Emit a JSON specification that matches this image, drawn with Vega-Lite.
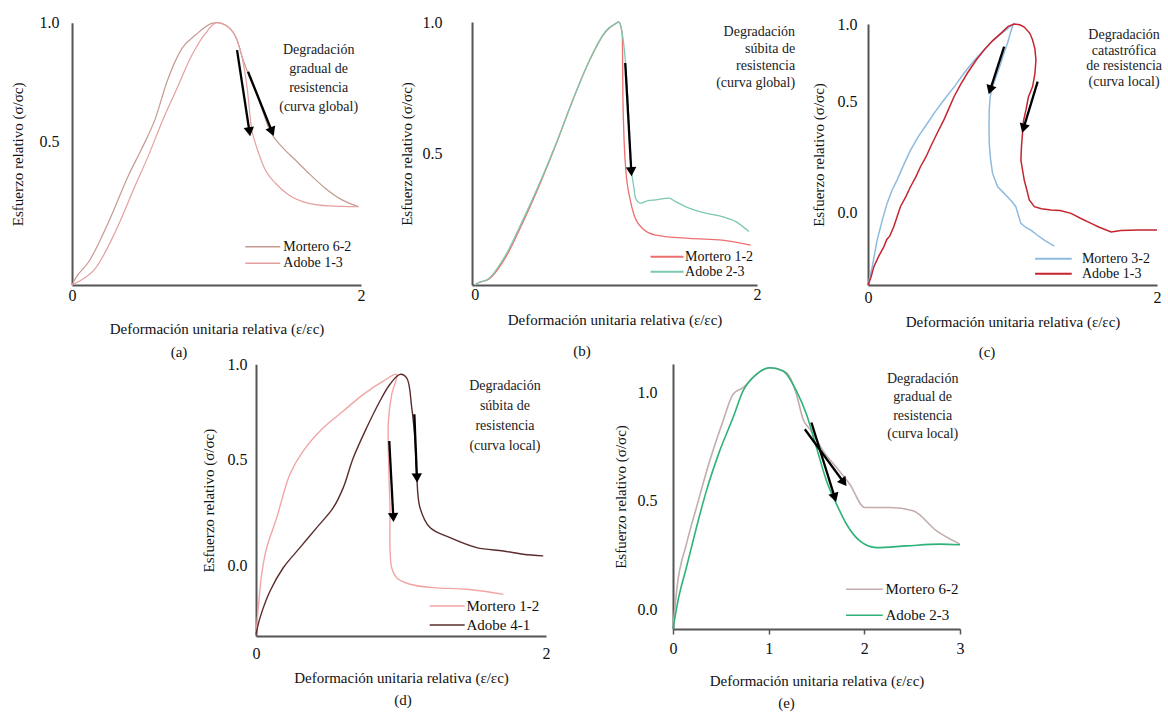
{
  "$schema": "https://vega.github.io/schema/vega-lite/v6.json",
  "background": "white",
  "padding": {"left": 10, "top": 14, "right": 0, "bottom": 0},
  "config": {
    "view": {"stroke": null},
    "axis": {"domainColor": "#555", "domainWidth": 2, "grid": false, "ticks": false, "labelFont": "Liberation Serif", "labelFontSize": 16, "labelColor": "#111", "titleFont": "Liberation Serif", "titleFontSize": 15, "titleFontWeight": "normal", "titleColor": "#111", "labelFlush": false},
    "legend": {"labelFont": "Liberation Serif", "labelColor": "#111", "padding": 0, "symbolType": "M-3,0L3,0", "title": null},
    "title": {"font": "Liberation Serif", "fontSize": 15, "fontWeight": "normal", "color": "#111"}
  },
  "datasets": {
    "a": [
      {"serie": "Mortero 6-2", "x": 0, "y": 0}, {"serie": "Mortero 6-2", "x": 0.024, "y": 0.023}, {"serie": "Mortero 6-2", "x": 0.116, "y": 0.081}, {"serie": "Mortero 6-2", "x": 0.254, "y": 0.221}, {"serie": "Mortero 6-2", "x": 0.392, "y": 0.384}, {"serie": "Mortero 6-2", "x": 0.484, "y": 0.477}, {"serie": "Mortero 6-2", "x": 0.577, "y": 0.598}, {"serie": "Mortero 6-2", "x": 0.657, "y": 0.752}, {"serie": "Mortero 6-2", "x": 0.761, "y": 0.892}, {"serie": "Mortero 6-2", "x": 0.854, "y": 0.948}, {"serie": "Mortero 6-2", "x": 0.969, "y": 0.997}, {"serie": "Mortero 6-2", "x": 1.0, "y": 1.0}, {"serie": "Mortero 6-2", "x": 1.085, "y": 0.98}, {"serie": "Mortero 6-2", "x": 1.142, "y": 0.927}, {"serie": "Mortero 6-2", "x": 1.177, "y": 0.857}, {"serie": "Mortero 6-2", "x": 1.223, "y": 0.78}, {"serie": "Mortero 6-2", "x": 1.292, "y": 0.675}, {"serie": "Mortero 6-2", "x": 1.373, "y": 0.542}, {"serie": "Mortero 6-2", "x": 1.453, "y": 0.482}, {"serie": "Mortero 6-2", "x": 1.546, "y": 0.436}, {"serie": "Mortero 6-2", "x": 1.638, "y": 0.39}, {"serie": "Mortero 6-2", "x": 1.754, "y": 0.337}, {"serie": "Mortero 6-2", "x": 1.869, "y": 0.297}, {"serie": "Mortero 6-2", "x": 1.984, "y": 0.273},
      {"serie": "Adobe 1-3", "x": 0, "y": 0}, {"serie": "Adobe 1-3", "x": 0.046, "y": 0.012}, {"serie": "Adobe 1-3", "x": 0.162, "y": 0.058}, {"serie": "Adobe 1-3", "x": 0.3, "y": 0.186}, {"serie": "Adobe 1-3", "x": 0.439, "y": 0.349}, {"serie": "Adobe 1-3", "x": 0.531, "y": 0.454}, {"serie": "Adobe 1-3", "x": 0.623, "y": 0.584}, {"serie": "Adobe 1-3", "x": 0.716, "y": 0.71}, {"serie": "Adobe 1-3", "x": 0.83, "y": 0.864}, {"serie": "Adobe 1-3", "x": 0.923, "y": 0.955}, {"serie": "Adobe 1-3", "x": 1.003, "y": 1.0}, {"serie": "Adobe 1-3", "x": 1.085, "y": 0.98}, {"serie": "Adobe 1-3", "x": 1.142, "y": 0.927}, {"serie": "Adobe 1-3", "x": 1.177, "y": 0.854}, {"serie": "Adobe 1-3", "x": 1.211, "y": 0.731}, {"serie": "Adobe 1-3", "x": 1.246, "y": 0.541}, {"serie": "Adobe 1-3", "x": 1.257, "y": 0.517}, {"serie": "Adobe 1-3", "x": 1.292, "y": 0.459}, {"serie": "Adobe 1-3", "x": 1.338, "y": 0.401}, {"serie": "Adobe 1-3", "x": 1.408, "y": 0.355}, {"serie": "Adobe 1-3", "x": 1.5, "y": 0.314}, {"serie": "Adobe 1-3", "x": 1.638, "y": 0.285}, {"serie": "Adobe 1-3", "x": 1.777, "y": 0.276}, {"serie": "Adobe 1-3", "x": 1.984, "y": 0.273}
    ],
    "b": [
      {"serie": "Mortero 1-2", "x": 0, "y": 0}, {"serie": "Mortero 1-2", "x": 0.016, "y": 0.006}, {"serie": "Mortero 1-2", "x": 0.099, "y": 0.022}, {"serie": "Mortero 1-2", "x": 0.218, "y": 0.105}, {"serie": "Mortero 1-2", "x": 0.335, "y": 0.232}, {"serie": "Mortero 1-2", "x": 0.454, "y": 0.375}, {"serie": "Mortero 1-2", "x": 0.572, "y": 0.53}, {"serie": "Mortero 1-2", "x": 0.69, "y": 0.697}, {"serie": "Mortero 1-2", "x": 0.809, "y": 0.85}, {"serie": "Mortero 1-2", "x": 0.927, "y": 0.963}, {"serie": "Mortero 1-2", "x": 1.0, "y": 0.995}, {"serie": "Mortero 1-2", "x": 1.02, "y": 1.0}, {"serie": "Mortero 1-2", "x": 1.045, "y": 0.952}, {"serie": "Mortero 1-2", "x": 1.05, "y": 0.698}, {"serie": "Mortero 1-2", "x": 1.069, "y": 0.444}, {"serie": "Mortero 1-2", "x": 1.104, "y": 0.317}, {"serie": "Mortero 1-2", "x": 1.128, "y": 0.267}, {"serie": "Mortero 1-2", "x": 1.187, "y": 0.216}, {"serie": "Mortero 1-2", "x": 1.282, "y": 0.19}, {"serie": "Mortero 1-2", "x": 1.518, "y": 0.177}, {"serie": "Mortero 1-2", "x": 1.754, "y": 0.171}, {"serie": "Mortero 1-2", "x": 1.955, "y": 0.152},
      {"serie": "Adobe 2-3", "x": 0, "y": 0}, {"serie": "Adobe 2-3", "x": 0.016, "y": 0.006}, {"serie": "Adobe 2-3", "x": 0.099, "y": 0.025}, {"serie": "Adobe 2-3", "x": 0.218, "y": 0.114}, {"serie": "Adobe 2-3", "x": 0.335, "y": 0.241}, {"serie": "Adobe 2-3", "x": 0.454, "y": 0.381}, {"serie": "Adobe 2-3", "x": 0.572, "y": 0.533}, {"serie": "Adobe 2-3", "x": 0.69, "y": 0.698}, {"serie": "Adobe 2-3", "x": 0.809, "y": 0.85}, {"serie": "Adobe 2-3", "x": 0.927, "y": 0.965}, {"serie": "Adobe 2-3", "x": 1.0, "y": 0.995}, {"serie": "Adobe 2-3", "x": 1.02, "y": 1.0}, {"serie": "Adobe 2-3", "x": 1.04, "y": 0.97}, {"serie": "Adobe 2-3", "x": 1.067, "y": 0.85}, {"serie": "Adobe 2-3", "x": 1.085, "y": 0.698}, {"serie": "Adobe 2-3", "x": 1.1, "y": 0.5}, {"serie": "Adobe 2-3", "x": 1.128, "y": 0.368}, {"serie": "Adobe 2-3", "x": 1.139, "y": 0.33}, {"serie": "Adobe 2-3", "x": 1.175, "y": 0.311}, {"serie": "Adobe 2-3", "x": 1.222, "y": 0.32}, {"serie": "Adobe 2-3", "x": 1.282, "y": 0.324}, {"serie": "Adobe 2-3", "x": 1.376, "y": 0.33}, {"serie": "Adobe 2-3", "x": 1.423, "y": 0.317}, {"serie": "Adobe 2-3", "x": 1.518, "y": 0.292}, {"serie": "Adobe 2-3", "x": 1.636, "y": 0.273}, {"serie": "Adobe 2-3", "x": 1.754, "y": 0.26}, {"serie": "Adobe 2-3", "x": 1.849, "y": 0.241}, {"serie": "Adobe 2-3", "x": 1.943, "y": 0.203}
    ],
    "c": [
      {"serie": "Mortero 3-2", "x": 0, "y": -0.324}, {"serie": "Mortero 3-2", "x": 0.03, "y": -0.24}, {"serie": "Mortero 3-2", "x": 0.063, "y": -0.123}, {"serie": "Mortero 3-2", "x": 0.1, "y": -0.03}, {"serie": "Mortero 3-2", "x": 0.132, "y": 0.042}, {"serie": "Mortero 3-2", "x": 0.165, "y": 0.1}, {"serie": "Mortero 3-2", "x": 0.201, "y": 0.147}, {"serie": "Mortero 3-2", "x": 0.25, "y": 0.22}, {"serie": "Mortero 3-2", "x": 0.294, "y": 0.282}, {"serie": "Mortero 3-2", "x": 0.35, "y": 0.345}, {"serie": "Mortero 3-2", "x": 0.41, "y": 0.402}, {"serie": "Mortero 3-2", "x": 0.47, "y": 0.46}, {"serie": "Mortero 3-2", "x": 0.525, "y": 0.511}, {"serie": "Mortero 3-2", "x": 0.6, "y": 0.6}, {"serie": "Mortero 3-2", "x": 0.664, "y": 0.683}, {"serie": "Mortero 3-2", "x": 0.73, "y": 0.76}, {"serie": "Mortero 3-2", "x": 0.803, "y": 0.833}, {"serie": "Mortero 3-2", "x": 0.87, "y": 0.9}, {"serie": "Mortero 3-2", "x": 0.942, "y": 0.953}, {"serie": "Mortero 3-2", "x": 1.005, "y": 1.0}, {"serie": "Mortero 3-2", "x": 0.985, "y": 0.94}, {"serie": "Mortero 3-2", "x": 0.965, "y": 0.876}, {"serie": "Mortero 3-2", "x": 0.94, "y": 0.81}, {"serie": "Mortero 3-2", "x": 0.919, "y": 0.747}, {"serie": "Mortero 3-2", "x": 0.89, "y": 0.67}, {"serie": "Mortero 3-2", "x": 0.862, "y": 0.597}, {"serie": "Mortero 3-2", "x": 0.845, "y": 0.53}, {"serie": "Mortero 3-2", "x": 0.839, "y": 0.463}, {"serie": "Mortero 3-2", "x": 0.837, "y": 0.39}, {"serie": "Mortero 3-2", "x": 0.839, "y": 0.313}, {"serie": "Mortero 3-2", "x": 0.848, "y": 0.24}, {"serie": "Mortero 3-2", "x": 0.862, "y": 0.177}, {"serie": "Mortero 3-2", "x": 0.897, "y": 0.117}, {"serie": "Mortero 3-2", "x": 0.93, "y": 0.095}, {"serie": "Mortero 3-2", "x": 0.965, "y": 0.072}, {"serie": "Mortero 3-2", "x": 0.995, "y": 0.05}, {"serie": "Mortero 3-2", "x": 1.023, "y": 0.027}, {"serie": "Mortero 3-2", "x": 1.04, "y": -0.01}, {"serie": "Mortero 3-2", "x": 1.058, "y": -0.048}, {"serie": "Mortero 3-2", "x": 1.09, "y": -0.065}, {"serie": "Mortero 3-2", "x": 1.127, "y": -0.078}, {"serie": "Mortero 3-2", "x": 1.17, "y": -0.1}, {"serie": "Mortero 3-2", "x": 1.22, "y": -0.123}, {"serie": "Mortero 3-2", "x": 1.289, "y": -0.15},
      {"serie": "Adobe 1-3", "x": 0, "y": -0.324}, {"serie": "Adobe 1-3", "x": 0.02, "y": -0.29}, {"serie": "Adobe 1-3", "x": 0.04, "y": -0.243}, {"serie": "Adobe 1-3", "x": 0.07, "y": -0.2}, {"serie": "Adobe 1-3", "x": 0.109, "y": -0.153}, {"serie": "Adobe 1-3", "x": 0.13, "y": -0.12}, {"serie": "Adobe 1-3", "x": 0.15, "y": -0.105}, {"serie": "Adobe 1-3", "x": 0.178, "y": -0.063}, {"serie": "Adobe 1-3", "x": 0.2, "y": -0.02}, {"serie": "Adobe 1-3", "x": 0.224, "y": 0.027}, {"serie": "Adobe 1-3", "x": 0.26, "y": 0.07}, {"serie": "Adobe 1-3", "x": 0.294, "y": 0.117}, {"serie": "Adobe 1-3", "x": 0.33, "y": 0.16}, {"serie": "Adobe 1-3", "x": 0.363, "y": 0.207}, {"serie": "Adobe 1-3", "x": 0.4, "y": 0.25}, {"serie": "Adobe 1-3", "x": 0.433, "y": 0.297}, {"serie": "Adobe 1-3", "x": 0.48, "y": 0.36}, {"serie": "Adobe 1-3", "x": 0.525, "y": 0.418}, {"serie": "Adobe 1-3", "x": 0.56, "y": 0.47}, {"serie": "Adobe 1-3", "x": 0.595, "y": 0.532}, {"serie": "Adobe 1-3", "x": 0.64, "y": 0.61}, {"serie": "Adobe 1-3", "x": 0.687, "y": 0.683}, {"serie": "Adobe 1-3", "x": 0.75, "y": 0.77}, {"serie": "Adobe 1-3", "x": 0.803, "y": 0.833}, {"serie": "Adobe 1-3", "x": 0.86, "y": 0.89}, {"serie": "Adobe 1-3", "x": 0.919, "y": 0.94}, {"serie": "Adobe 1-3", "x": 0.97, "y": 0.985}, {"serie": "Adobe 1-3", "x": 1.012, "y": 1.0}, {"serie": "Adobe 1-3", "x": 1.05, "y": 0.995}, {"serie": "Adobe 1-3", "x": 1.081, "y": 0.98}, {"serie": "Adobe 1-3", "x": 1.12, "y": 0.94}, {"serie": "Adobe 1-3", "x": 1.139, "y": 0.897}, {"serie": "Adobe 1-3", "x": 1.155, "y": 0.84}, {"serie": "Adobe 1-3", "x": 1.162, "y": 0.768}, {"serie": "Adobe 1-3", "x": 1.155, "y": 0.68}, {"serie": "Adobe 1-3", "x": 1.139, "y": 0.597}, {"serie": "Adobe 1-3", "x": 1.11, "y": 0.53}, {"serie": "Adobe 1-3", "x": 1.093, "y": 0.463}, {"serie": "Adobe 1-3", "x": 1.075, "y": 0.41}, {"serie": "Adobe 1-3", "x": 1.069, "y": 0.358}, {"serie": "Adobe 1-3", "x": 1.062, "y": 0.3}, {"serie": "Adobe 1-3", "x": 1.058, "y": 0.237}, {"serie": "Adobe 1-3", "x": 1.07, "y": 0.19}, {"serie": "Adobe 1-3", "x": 1.081, "y": 0.147}, {"serie": "Adobe 1-3", "x": 1.1, "y": 0.1}, {"serie": "Adobe 1-3", "x": 1.116, "y": 0.057}, {"serie": "Adobe 1-3", "x": 1.151, "y": 0.027}, {"serie": "Adobe 1-3", "x": 1.2, "y": 0.018}, {"serie": "Adobe 1-3", "x": 1.266, "y": 0.012}, {"serie": "Adobe 1-3", "x": 1.33, "y": 0.01}, {"serie": "Adobe 1-3", "x": 1.405, "y": -0.003}, {"serie": "Adobe 1-3", "x": 1.47, "y": -0.025}, {"serie": "Adobe 1-3", "x": 1.544, "y": -0.048}, {"serie": "Adobe 1-3", "x": 1.6, "y": -0.065}, {"serie": "Adobe 1-3", "x": 1.683, "y": -0.086}, {"serie": "Adobe 1-3", "x": 1.75, "y": -0.08}, {"serie": "Adobe 1-3", "x": 1.868, "y": -0.078}, {"serie": "Adobe 1-3", "x": 2.0, "y": -0.078}
    ],
    "d": [
      {"serie": "Mortero 1-2", "x": 0, "y": -0.328}, {"serie": "Mortero 1-2", "x": 0.016, "y": -0.202}, {"serie": "Mortero 1-2", "x": 0.039, "y": -0.044}, {"serie": "Mortero 1-2", "x": 0.074, "y": 0.082}, {"serie": "Mortero 1-2", "x": 0.143, "y": 0.224}, {"serie": "Mortero 1-2", "x": 0.234, "y": 0.429}, {"serie": "Mortero 1-2", "x": 0.326, "y": 0.544}, {"serie": "Mortero 1-2", "x": 0.464, "y": 0.666}, {"serie": "Mortero 1-2", "x": 0.602, "y": 0.754}, {"serie": "Mortero 1-2", "x": 0.74, "y": 0.842}, {"serie": "Mortero 1-2", "x": 0.878, "y": 0.912}, {"serie": "Mortero 1-2", "x": 0.97, "y": 0.947}, {"serie": "Mortero 1-2", "x": 0.936, "y": 0.842}, {"serie": "Mortero 1-2", "x": 0.913, "y": 0.702}, {"serie": "Mortero 1-2", "x": 0.917, "y": 0.429}, {"serie": "Mortero 1-2", "x": 0.924, "y": 0.271}, {"serie": "Mortero 1-2", "x": 0.924, "y": 0.082}, {"serie": "Mortero 1-2", "x": 0.936, "y": -0.013}, {"serie": "Mortero 1-2", "x": 0.97, "y": -0.06}, {"serie": "Mortero 1-2", "x": 1.062, "y": -0.091}, {"serie": "Mortero 1-2", "x": 1.223, "y": -0.107}, {"serie": "Mortero 1-2", "x": 1.453, "y": -0.115}, {"serie": "Mortero 1-2", "x": 1.706, "y": -0.139},
      {"serie": "Adobe 4-1", "x": 0, "y": -0.328}, {"serie": "Adobe 4-1", "x": 0.028, "y": -0.249}, {"serie": "Adobe 4-1", "x": 0.097, "y": -0.123}, {"serie": "Adobe 4-1", "x": 0.188, "y": -0.013}, {"serie": "Adobe 4-1", "x": 0.303, "y": 0.082}, {"serie": "Adobe 4-1", "x": 0.419, "y": 0.177}, {"serie": "Adobe 4-1", "x": 0.533, "y": 0.271}, {"serie": "Adobe 4-1", "x": 0.602, "y": 0.366}, {"serie": "Adobe 4-1", "x": 0.671, "y": 0.508}, {"serie": "Adobe 4-1", "x": 0.763, "y": 0.666}, {"serie": "Adobe 4-1", "x": 0.855, "y": 0.807}, {"serie": "Adobe 4-1", "x": 0.924, "y": 0.895}, {"serie": "Adobe 4-1", "x": 0.993, "y": 0.947}, {"serie": "Adobe 4-1", "x": 1.039, "y": 0.929}, {"serie": "Adobe 4-1", "x": 1.074, "y": 0.772}, {"serie": "Adobe 4-1", "x": 1.097, "y": 0.596}, {"serie": "Adobe 4-1", "x": 1.108, "y": 0.429}, {"serie": "Adobe 4-1", "x": 1.131, "y": 0.271}, {"serie": "Adobe 4-1", "x": 1.2, "y": 0.177}, {"serie": "Adobe 4-1", "x": 1.338, "y": 0.129}, {"serie": "Adobe 4-1", "x": 1.522, "y": 0.082}, {"serie": "Adobe 4-1", "x": 1.706, "y": 0.066}, {"serie": "Adobe 4-1", "x": 1.843, "y": 0.051}, {"serie": "Adobe 4-1", "x": 1.981, "y": 0.043}
    ],
    "e": [
      {"serie": "Mortero 6-2", "x": 0, "y": -0.092}, {"serie": "Mortero 6-2", "x": 0.042, "y": 0.1}, {"serie": "Mortero 6-2", "x": 0.14, "y": 0.3}, {"serie": "Mortero 6-2", "x": 0.245, "y": 0.469}, {"serie": "Mortero 6-2", "x": 0.384, "y": 0.685}, {"serie": "Mortero 6-2", "x": 0.523, "y": 0.869}, {"serie": "Mortero 6-2", "x": 0.628, "y": 0.993}, {"serie": "Mortero 6-2", "x": 0.732, "y": 1.023}, {"serie": "Mortero 6-2", "x": 0.872, "y": 1.085}, {"serie": "Mortero 6-2", "x": 1.012, "y": 1.115}, {"serie": "Mortero 6-2", "x": 1.186, "y": 1.092}, {"serie": "Mortero 6-2", "x": 1.29, "y": 0.993}, {"serie": "Mortero 6-2", "x": 1.36, "y": 0.877}, {"serie": "Mortero 6-2", "x": 1.447, "y": 0.823}, {"serie": "Mortero 6-2", "x": 1.569, "y": 0.731}, {"serie": "Mortero 6-2", "x": 1.709, "y": 0.654}, {"serie": "Mortero 6-2", "x": 1.848, "y": 0.577}, {"serie": "Mortero 6-2", "x": 2.005, "y": 0.469}, {"serie": "Mortero 6-2", "x": 2.267, "y": 0.469}, {"serie": "Mortero 6-2", "x": 2.51, "y": 0.454}, {"serie": "Mortero 6-2", "x": 2.755, "y": 0.361}, {"serie": "Mortero 6-2", "x": 3.0, "y": 0.3},
      {"serie": "Adobe 2-3", "x": 0, "y": -0.092}, {"serie": "Adobe 2-3", "x": 0.052, "y": 0.038}, {"serie": "Adobe 2-3", "x": 0.14, "y": 0.192}, {"serie": "Adobe 2-3", "x": 0.245, "y": 0.377}, {"serie": "Adobe 2-3", "x": 0.349, "y": 0.546}, {"serie": "Adobe 2-3", "x": 0.488, "y": 0.731}, {"serie": "Adobe 2-3", "x": 0.628, "y": 0.885}, {"serie": "Adobe 2-3", "x": 0.732, "y": 1.008}, {"serie": "Adobe 2-3", "x": 0.872, "y": 1.085}, {"serie": "Adobe 2-3", "x": 1.012, "y": 1.115}, {"serie": "Adobe 2-3", "x": 1.151, "y": 1.1}, {"serie": "Adobe 2-3", "x": 1.29, "y": 1.008}, {"serie": "Adobe 2-3", "x": 1.395, "y": 0.9}, {"serie": "Adobe 2-3", "x": 1.5, "y": 0.746}, {"serie": "Adobe 2-3", "x": 1.605, "y": 0.592}, {"serie": "Adobe 2-3", "x": 1.709, "y": 0.485}, {"serie": "Adobe 2-3", "x": 1.814, "y": 0.392}, {"serie": "Adobe 2-3", "x": 1.953, "y": 0.315}, {"serie": "Adobe 2-3", "x": 2.128, "y": 0.284}, {"serie": "Adobe 2-3", "x": 2.441, "y": 0.292}, {"serie": "Adobe 2-3", "x": 2.79, "y": 0.3}, {"serie": "Adobe 2-3", "x": 3.0, "y": 0.297}
    ],
    "arrows": [
      {"panel": "a", "id": "a1", "x": 1.228, "y": 0.542, "x2": 1.142, "y2": 0.885},
      {"panel": "a", "id": "a2", "x": 1.384, "y": 0.542, "x2": 1.218, "y2": 0.794},
      {"panel": "b", "id": "b1", "x": 1.109, "y": 0.431, "x2": 1.066, "y2": 0.844},
      {"panel": "c", "id": "c1", "x": 0.845, "y": 0.575, "x2": 0.942, "y2": 0.854},
      {"panel": "c", "id": "c2", "x": 1.076, "y": 0.38, "x2": 1.174, "y2": 0.629},
      {"panel": "d", "id": "d1", "x": 0.947, "y": 0.225, "x2": 0.919, "y2": 0.596},
      {"panel": "d", "id": "d2", "x": 1.11, "y": 0.412, "x2": 1.092, "y2": 0.737},
      {"panel": "e", "id": "e1", "x": 1.691, "y": 0.515, "x2": 1.447, "y2": 0.862},
      {"panel": "e", "id": "e2", "x": 1.786, "y": 0.585, "x2": 1.378, "y2": 0.831}
    ],
    "notes": [
      {"panel": "a", "x": 1.707, "y": 0.915, "label": "Degradación\ngradual de\nresistencia\n(curva global)"},
      {"panel": "b", "x": 2.27, "y": 0.99, "label": "Degradación\nsúbita de\nresistencia\n(curva global)"},
      {"panel": "c", "x": 1.772, "y": 0.974, "label": "Degradación\ncatastrófica\nde resistencia\n(curva local)"},
      {"panel": "d", "x": 1.717, "y": 0.923, "label": "Degradación\nsúbita de\nresistencia\n(curva local)"},
      {"panel": "e", "x": 2.61, "y": 1.096, "label": "Degradación\ngradual de\nresistencia\n(curva local)"}
    ]
  },
  "spacing": -4,
  "center": true,
  "resolve": {"scale": {"color": "independent"}, "legend": {"color": "independent"}},
  "vconcat": [
    {
      "hconcat": [
        {
          "width": 289, "height": 263,
          "title": {"text": "(a)", "orient": "bottom", "anchor": "middle", "frame": "group", "offset": 9, "dx": -37.5},
          "encoding": {
            "x": {"field": "x", "type": "quantitative", "scale": {"domain": [0, 2], "nice": false, "zero": false}, "axis": {"values": [0, 1, 2], "format": "d", "title": "Deformación unitaria relativa (ε/εc)", "labelPadding": 2, "titlePadding": 18}},
            "y": {"field": "y", "type": "quantitative", "scale": {"domain": [0, 0.5, 1], "range": [263, 119.7, 0.7], "nice": false, "zero": false}, "axis": {"values": [0.5, 1], "format": ".1f", "title": "Esfuerzo relativo (σ/σc)", "labelPadding": 13, "titlePadding": 14}}
          },
          "layer": [
            {"data": {"name": "a"}, "mark": {"type": "line", "strokeWidth": 1.2, "interpolate": "monotone"},
             "encoding": {"color": {"field": "serie", "type": "nominal", "scale": {"domain": ["Mortero 6-2", "Adobe 1-3"], "range": ["#c49a90", "#e4a0a0"]}, "legend": {"orient": "none", "legendX": 183.7, "legendY": 217.7, "symbolSize": 136, "symbolStrokeWidth": 1.5, "labelFontSize": 14, "labelOffset": 13.6, "rowPadding": 2.6}}, "order": {"value": null}}},
            {"data": {"name": "arrows"}, "transform": [{"filter": "datum.panel === 'a'"}], "mark": {"type": "rule", "color": "black", "strokeWidth": 2.3}, "encoding": {"x2": {"field": "x2"}, "y2": {"field": "y2"}}},
            {"data": {"name": "arrows"}, "transform": [{"filter": "datum.id === 'a1'"}], "mark": {"type": "point", "shape": "triangle-down", "filled": true, "size": 110, "angle": -8.6, "color": "black", "opacity": 1}},
            {"data": {"name": "arrows"}, "transform": [{"filter": "datum.id === 'a2'"}], "mark": {"type": "point", "shape": "triangle-down", "filled": true, "size": 110, "angle": -21.8, "color": "black", "opacity": 1}},
            {"data": {"name": "notes"}, "transform": [{"filter": "datum.panel === 'a'"}], "mark": {"type": "text", "align": "center", "baseline": "top", "lineBreak": "\n", "lineHeight": 19, "font": "Liberation Serif", "fontSize": 14, "color": "#222"}, "encoding": {"text": {"field": "label"}}}
          ]
        },
        {
          "width": 285, "height": 263,
          "title": {"text": "(b)", "orient": "bottom", "anchor": "middle", "frame": "group", "offset": 17, "dx": -32.5},
          "encoding": {
            "x": {"field": "x", "type": "quantitative", "scale": {"domain": [-0.02, 2], "nice": false, "zero": false}, "axis": {"values": [0, 1, 2], "format": "d", "title": "Deformación unitaria relativa (ε/εc)", "labelPadding": 1, "titlePadding": 10}},
            "y": {"field": "y", "type": "quantitative", "scale": {"domain": [0, 1], "nice": false, "zero": false}, "axis": {"values": [0.5, 1], "format": ".1f", "title": "Esfuerzo relativo (σ/σc)", "labelPadding": 30, "titlePadding": 8}}
          },
          "layer": [
            {"data": {"name": "b"}, "mark": {"type": "line", "strokeWidth": 1.3, "interpolate": "monotone"},
             "encoding": {"color": {"field": "serie", "type": "nominal", "scale": {"domain": ["Mortero 1-2", "Adobe 2-3"], "range": ["#ee6f6f", "#7cc9ad"]}, "legend": {"orient": "none", "legendX": 188, "legendY": 227.7, "symbolSize": 121, "symbolStrokeWidth": 2, "labelFontSize": 14, "labelOffset": 11, "rowPadding": 1}}, "order": {"value": null}}},
            {"data": {"name": "arrows"}, "transform": [{"filter": "datum.panel === 'b'"}], "mark": {"type": "rule", "color": "black", "strokeWidth": 2.3}, "encoding": {"x2": {"field": "x2"}, "y2": {"field": "y2"}}},
            {"data": {"name": "arrows"}, "transform": [{"filter": "datum.id === 'b1'"}], "mark": {"type": "point", "shape": "triangle-down", "filled": true, "size": 110, "angle": -3.2, "color": "black", "opacity": 1}},
            {"data": {"name": "notes"}, "transform": [{"filter": "datum.panel === 'b'"}], "mark": {"type": "text", "align": "right", "baseline": "top", "lineBreak": "\n", "lineHeight": 17, "font": "Liberation Serif", "fontSize": 14, "color": "#222"}, "encoding": {"text": {"field": "label"}}}
          ]
        },
        {
          "width": 289, "height": 263,
          "title": {"text": "(c)", "orient": "bottom", "anchor": "middle", "frame": "group", "offset": 16, "dx": -25.5},
          "encoding": {
            "x": {"field": "x", "type": "quantitative", "scale": {"domain": [0, 2], "nice": false, "zero": false}, "axis": {"values": [0, 1, 2], "format": "d", "title": "Deformación unitaria relativa (ε/εc)", "labelPadding": 4, "titlePadding": 9}},
            "y": {"field": "y", "type": "quantitative", "scale": {"domain": [-0.324, 0, 0.5, 1], "range": [263, 190.7, 79.7, 2], "nice": false, "zero": false}, "axis": {"values": [0, 0.5, 1], "format": ".1f", "title": "Esfuerzo relativo (σ/σc)", "labelPadding": 11, "titlePadding": 11}}
          },
          "layer": [
            {"data": {"name": "c"}, "mark": {"type": "line", "strokeWidth": 1.5},
             "encoding": {"color": {"field": "serie", "type": "nominal", "scale": {"domain": ["Mortero 3-2", "Adobe 1-3"], "range": ["#8dbbe0", "#c4252e"]}, "legend": {"orient": "none", "legendX": 177.9, "legendY": 229.3, "symbolSize": 149, "symbolStrokeWidth": 2, "labelFontSize": 14, "labelOffset": 21, "rowPadding": 0}}, "order": {"value": null}}},
            {"data": {"name": "arrows"}, "transform": [{"filter": "datum.panel === 'c'"}], "mark": {"type": "rule", "color": "black", "strokeWidth": 2.3}, "encoding": {"x2": {"field": "x2"}, "y2": {"field": "y2"}}},
            {"data": {"name": "arrows"}, "transform": [{"filter": "datum.id === 'c1'"}], "mark": {"type": "point", "shape": "triangle-down", "filled": true, "size": 110, "angle": 17.9, "color": "black", "opacity": 1}},
            {"data": {"name": "arrows"}, "transform": [{"filter": "datum.id === 'c2'"}], "mark": {"type": "point", "shape": "triangle-down", "filled": true, "size": 110, "angle": 16.7, "color": "black", "opacity": 1}},
            {"data": {"name": "notes"}, "transform": [{"filter": "datum.panel === 'c'"}], "mark": {"type": "text", "align": "center", "baseline": "top", "lineBreak": "\n", "lineHeight": 15.6, "font": "Liberation Serif", "fontSize": 14, "color": "#222"}, "encoding": {"text": {"field": "label"}}}
          ]
        }
      ],
      "spacing": 111,
      "bounds": "flush",
      "resolve": {"scale": {"color": "independent"}, "legend": {"color": "independent"}}
    },
    {
      "title": {"text": " ", "orient": "right", "offset": 12, "fontSize": 2},
      "hconcat": [
        {
          "width": 290, "height": 272,
          "title": {"text": "(d)", "orient": "bottom", "anchor": "middle", "frame": "group", "offset": 8, "dx": 2},
          "encoding": {
            "x": {"field": "x", "type": "quantitative", "scale": {"domain": [0, 2], "nice": false, "zero": false}, "axis": {"values": [0, 1, 2], "format": "d", "title": "Deformación unitaria relativa (ε/εc)", "labelPadding": 9, "titlePadding": 9}},
            "y": {"field": "y", "type": "quantitative", "scale": {"domain": [-0.336, 0, 0.5, 1], "range": [272, 201, 95.3, 0.3], "nice": false, "zero": false}, "axis": {"values": [0, 0.5, 1], "format": ".1f", "title": "Esfuerzo relativo (σ/σc)", "labelPadding": 9, "titlePadding": 11}}
          },
          "layer": [
            {"data": {"name": "d"}, "mark": {"type": "line", "strokeWidth": 1.4, "interpolate": "catmull-rom"},
             "encoding": {"color": {"field": "serie", "type": "nominal", "scale": {"domain": ["Mortero 1-2", "Adobe 4-1"], "range": ["#f2a5a5", "#5b2c2c"]}, "legend": {"orient": "none", "legendX": 183.7, "legendY": 234.5, "symbolSize": 136, "symbolStrokeWidth": 1.5, "labelFontSize": 15, "labelOffset": 11.7, "rowPadding": 3}}, "order": {"value": null}}},
            {"data": {"name": "arrows"}, "transform": [{"filter": "datum.panel === 'd'"}], "mark": {"type": "rule", "color": "black", "strokeWidth": 2.3}, "encoding": {"x2": {"field": "x2"}, "y2": {"field": "y2"}}},
            {"data": {"name": "arrows"}, "transform": [{"filter": "datum.id === 'd1'"}], "mark": {"type": "point", "shape": "triangle-down", "filled": true, "size": 110, "angle": -3, "color": "black", "opacity": 1}},
            {"data": {"name": "arrows"}, "transform": [{"filter": "datum.id === 'd2'"}], "mark": {"type": "point", "shape": "triangle-down", "filled": true, "size": 110, "angle": -2.4, "color": "black", "opacity": 1}},
            {"data": {"name": "notes"}, "transform": [{"filter": "datum.panel === 'd'"}], "mark": {"type": "text", "align": "center", "baseline": "top", "lineBreak": "\n", "lineHeight": 20, "font": "Liberation Serif", "fontSize": 14, "color": "#222"}, "encoding": {"text": {"field": "label"}}}
          ]
        },
        {
          "width": 287, "height": 265,
          "title": {"text": "(e)", "orient": "bottom", "anchor": "middle", "frame": "group", "offset": 8, "dx": -30},
          "encoding": {
            "x": {"field": "x", "type": "quantitative", "scale": {"domain": [0, 3], "nice": false, "zero": false}, "axis": {"values": [0, 1, 2, 3], "format": "d", "title": "Deformación unitaria relativa (ε/εc)", "ticks": true, "tickSize": 5, "tickColor": "#555", "tickWidth": 1.5, "labelPadding": 6, "titlePadding": 17}},
            "y": {"field": "y", "type": "quantitative", "scale": {"domain": [-0.0923, 1.1325], "nice": false, "zero": false}, "axis": {"values": [0, 0.5, 1], "format": ".1f", "title": "Esfuerzo relativo (σ/σc)", "labelPadding": 16, "titlePadding": 9}}
          },
          "layer": [
            {"data": {"name": "e"}, "mark": {"type": "line", "strokeWidth": 1.6, "interpolate": "monotone"},
             "encoding": {"color": {"field": "serie", "type": "nominal", "scale": {"domain": ["Mortero 6-2", "Adobe 2-3"], "range": ["#c3adad", "#2fb277"]}, "legend": {"orient": "none", "legendX": 183.9, "legendY": 217.8, "symbolSize": 150, "symbolStrokeWidth": 1.5, "labelFontSize": 15, "labelOffset": 13.6, "rowPadding": 10}}, "order": {"value": null}}},
            {"data": {"name": "arrows"}, "transform": [{"filter": "datum.panel === 'e'"}], "mark": {"type": "rule", "color": "black", "strokeWidth": 2.3}, "encoding": {"x2": {"field": "x2"}, "y2": {"field": "y2"}}},
            {"data": {"name": "arrows"}, "transform": [{"filter": "datum.id === 'e1'"}], "mark": {"type": "point", "shape": "triangle-down", "filled": true, "size": 110, "angle": -17.3, "color": "black", "opacity": 1}},
            {"data": {"name": "arrows"}, "transform": [{"filter": "datum.id === 'e2'"}], "mark": {"type": "point", "shape": "triangle-down", "filled": true, "size": 110, "angle": -36.2, "color": "black", "opacity": 1}},
            {"data": {"name": "notes"}, "transform": [{"filter": "datum.panel === 'e'"}], "mark": {"type": "text", "align": "center", "baseline": "top", "lineBreak": "\n", "lineHeight": 18.5, "font": "Liberation Serif", "fontSize": 14, "color": "#222"}, "encoding": {"text": {"field": "label"}}}
          ]
        }
      ],
      "spacing": 127,
      "bounds": "flush",
      "resolve": {"scale": {"color": "independent"}, "legend": {"color": "independent"}}
    }
  ]
}
